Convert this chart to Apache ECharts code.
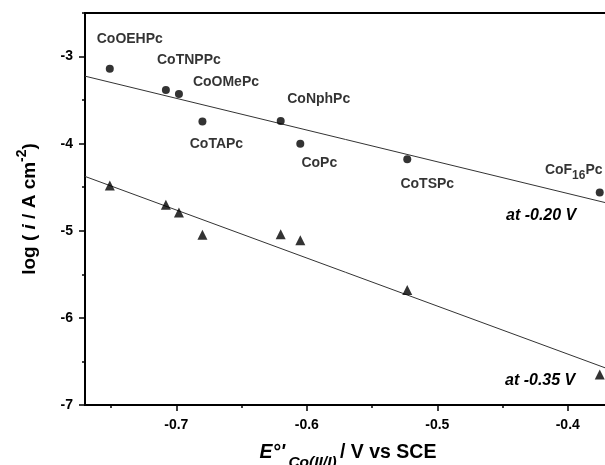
<!DOCTYPE html>
<html>
<head>
<meta charset="utf-8">
<script src="https://cdn.jsdelivr.net/npm/echarts@6/dist/echarts.min.js"></script>
<style>
  html, body { margin: 0; padding: 0; background: #fff; }
  #chart { width: 605px; height: 465px; }
</style>
</head>
<body>
<div id="chart"></div>
<script>
    // E°' Co(II/I) for each phthalocyanine, V vs SCE
    const complexes = ['CoOEHPc', 'CoTNPPc', 'CoOMePc', 'CoTAPc', 'CoNphPc', 'CoPc', 'CoTSPc', 'CoF16Pc'];
    const potentials = [-0.751, -0.708, -0.698, -0.680, -0.620, -0.605, -0.523, -0.3755];
    // log(i / A cm-2) at -0.20 V (circles) and at -0.35 V (triangles)
    const logI020 = [-3.14, -3.385, -3.43, -3.745, -3.74, -4.00, -4.18, -4.56];
    const logI035 = [-4.48, -4.70, -4.79, -5.045, -5.04, -5.11, -5.68, -6.65];
    // fitted straight lines, given by their ends
    const fitX = [-0.77, -0.35];
    const fit020 = [-3.225, -4.754];
    const fit035 = [-4.376, -6.691];

    const xMajor = [-0.7, -0.6, -0.5, -0.4];
    const xMinor = [-0.75, -0.65, -0.55, -0.45, -0.35];
    const yMajor = [-7, -6, -5, -4, -3];
    const yMinor = [-6.5, -5.5, -4.5, -3.5, -2.5];

    // where each name sits relative to its circle
    const labelOffsets = [[20, -30], [23, -30], [47, -12], [14, 23], [38, -22], [19, 19], [20, 25], [-26, -22]];

    const font = 'Liberation Sans, Arial, sans-serif';
    let chart = echarts.init(document.getElementById('chart'));

    function axisBase(pos) {
        return {
            type: 'value',
            position: pos,
            axisLine: {show: true, lineStyle: {color: '#000', width: 2}},
            splitLine: {show: false},
            axisTick: {show: true, inside: false, length: 6, lineStyle: {color: '#000', width: 1.5}},
            axisLabel: {color: '#000', fontSize: 14, fontWeight: 'bold', fontFamily: font}
        };
    }

    let x0 = axisBase('bottom');
    x0.min = -0.77; x0.max = -0.35;
    x0.axisTick.customValues = xMajor;
    x0.axisLabel.customValues = xMajor;
    x0.axisLabel.margin = 13;
    x0.axisLabel.formatter = v => v.toFixed(1);
    x0.name = "{e|E°'} {sub|Co(II/I)} {n|/ V vs SCE}";
    x0.nameLocation = 'middle';
    x0.nameGap = 30;
    x0.nameTextStyle = {
        padding: [0, 22, 0, 0],
        rich: {
            e: {fontSize: 19.5, fontWeight: 'bold', fontStyle: 'italic', fontFamily: font, color: '#000', lineHeight: 36},
            sub: {fontSize: 15.5, fontWeight: 'bold', fontStyle: 'italic', fontFamily: font, color: '#000', lineHeight: 15, verticalAlign: 'bottom'},
            n: {fontSize: 19.5, fontWeight: 'bold', fontFamily: font, color: '#000', lineHeight: 36}
        }
    };

    let x1 = axisBase('bottom');
    x1.min = -0.77; x1.max = -0.35;
    x1.axisTick.customValues = xMinor;
    x1.axisTick.length = 3;
    x1.axisLabel = {show: false};

    let y0 = axisBase('left');
    y0.min = -7; y0.max = -2.5;
    y0.axisTick.customValues = yMajor;
    y0.axisLabel.customValues = yMajor;
    y0.axisLabel.margin = 12;
    y0.name = '{n|log ( }{i|i}{n| / A cm}{sup|-2}{n|)}';
    y0.nameLocation = 'middle';
    y0.nameRotate = 90;
    y0.nameGap = 40;
    y0.nameTextStyle = {
        rich: {
            n: {fontSize: 19, fontWeight: 'bold', fontFamily: font, color: '#000', lineHeight: 30},
            i: {fontSize: 19, fontWeight: 'bold', fontStyle: 'italic', fontFamily: font, color: '#000', lineHeight: 30},
            sup: {fontSize: 14, fontWeight: 'bold', fontFamily: font, color: '#000', lineHeight: 14, verticalAlign: 'top'}
        }
    };

    let y1 = axisBase('left');
    y1.min = -7; y1.max = -2.5;
    y1.axisTick.customValues = yMinor;
    y1.axisTick.length = 3;
    y1.axisLabel = {show: false};

    let circles = potentials.map(function (x, i) {
        return {
            name: complexes[i],
            value: [x, logI020[i]],
            label: {offset: labelOffsets[i]}
        };
    });
    let triangles = potentials.map((x, i) => [x, logI035[i]]);

    let option = {
        animation: false,
        backgroundColor: '#fff',
        grid: {
            left: 85, top: 13, bottom: 60, right: -28,
            outerBoundsMode: 'none',
            containLabel: false,
            show: true, borderColor: '#000', borderWidth: 2
        },
        xAxis: [x0, x1],
        yAxis: [y0, y1],
        series: [
            {
                type: 'line',
                data: fitX.map((x, i) => [x, fit020[i]]),
                showSymbol: false,
                lineStyle: {color: '#333', width: 1},
                z: 1
            },
            {
                type: 'line',
                data: fitX.map((x, i) => [x, fit035[i]]),
                showSymbol: false,
                lineStyle: {color: '#333', width: 1},
                z: 1
            },
            {
                type: 'scatter',
                symbol: 'circle',
                symbolSize: 8,
                itemStyle: {color: '#000'},
                data: circles,
                label: {
                    show: true,
                    position: 'inside',
                    color: '#000',
                    textBorderWidth: 0,
                    fontSize: 14,
                    fontWeight: 'bold',
                    fontFamily: font,
                    formatter: function (p) {
                        if (p.name === 'CoF16Pc') {
                            return '{a|CoF}{s|16}{a|Pc}';
                        }
                        return p.name;
                    },
                    rich: {
                        a: {fontSize: 14, fontWeight: 'bold', fontFamily: font, color: '#000', lineHeight: 22},
                        s: {fontSize: 12, fontWeight: 'bold', fontFamily: font, color: '#000', lineHeight: 11, verticalAlign: 'bottom'}
                    }
                },
                z: 3
            },
            {
                type: 'scatter',
                symbol: 'triangle',
                symbolSize: 10,
                itemStyle: {color: '#000'},
                data: triangles,
                z: 3
            }
        ],
        graphic: [
            {
                type: 'text', left: 506, top: 208,
                style: {text: 'at -0.20 V', fill: '#000', font: 'italic bold 16px ' + font}
            },
            {
                type: 'text', left: 505, top: 373,
                style: {text: 'at -0.35 V', fill: '#000', font: 'italic bold 16px ' + font}
            }
        ]
    };
    chart.setOption(option);
</script>
</body>
</html>
